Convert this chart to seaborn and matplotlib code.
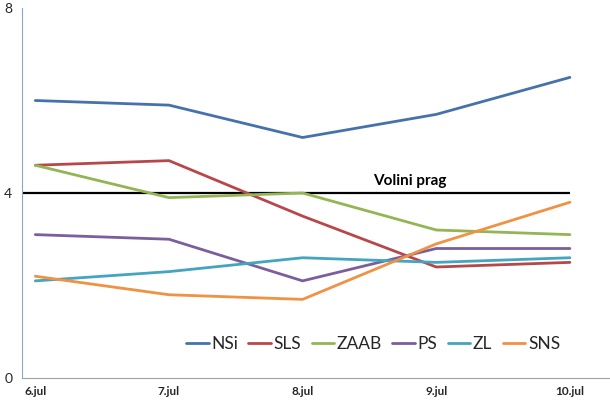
import pandas as pd
import matplotlib
matplotlib.use("Agg")
import matplotlib.pyplot as plt
from matplotlib.ticker import FixedLocator
import seaborn as sns

# ── Podatki ──
DNEVI = ["6.jul", "7.jul", "8.jul", "9.jul", "10.jul"]
STRANKE = ["NSi", "SLS", "ZAAB", "PS", "ZL", "SNS"]
NSI = [6.0, 5.9, 5.2, 5.7, 6.5]
SLS = [4.6, 4.7, 3.5, 2.4, 2.5]
ZAAB = [4.6, 3.9, 4.0, 3.2, 3.1]
PS = [3.1, 3.0, 2.1, 2.8, 2.8]
ZL = [2.1, 2.3, 2.6, 2.5, 2.6]
SNS = [2.2, 1.8, 1.7, 2.9, 3.8]
PRAG = 4
Y_TICKS = [0, 4, 8]

BARVE = ["#4572AA", "#B8474A", "#93B553", "#7A5E9E", "#43A5C0", "#F09244"]

vrednosti = [NSI, SLS, ZAAB, PS, ZL, SNS]
df = pd.DataFrame([
    {"dan": d, "pos": i, "stranka": s, "vrednost": v}
    for s, vals in zip(STRANKE, vrednosti)
    for i, (d, v) in enumerate(zip(DNEVI, vals))
])

sns.set_style("white")
plt.rcParams["font.family"] = ["Lato", "DejaVu Sans"]

fig = plt.figure(figsize=(6.1, 4.0), dpi=100)
ax = fig.add_axes([0.036, 0.055, 0.964, 0.925])

sns.lineplot(data=df, x="pos", y="vrednost", hue="stranka", hue_order=STRANKE,
             palette=BARVE, linewidth=2, sort=False, ax=ax, zorder=3)

# volilni prag
ax.hlines(PRAG, -0.18, len(DNEVI) - 1, color="black", lw=1.6, zorder=2)
ax.text(2.8, PRAG + 0.1, "Volini prag", fontsize=11, fontweight="bold",
        ha="center", va="bottom", color="black")

ax.set_xlim(-0.1, 4.3)
ax.set_ylim(0, 8)
ax.set_xlabel("")
ax.set_ylabel("")

ax.xaxis.set_major_locator(FixedLocator(range(len(DNEVI))))
ax.set_xticklabels(DNEVI, fontsize=8.5, fontweight="bold")
ax.xaxis.set_minor_locator(FixedLocator([0.5, 1.5, 2.5, 3.5]))
ax.tick_params(axis="x", which="major", length=0, pad=6)
ax.tick_params(axis="x", which="minor", length=4, color="#A0A0A0", direction="out")
ax.set_yticks(Y_TICKS)
ax.tick_params(axis="y", length=0, labelsize=10, pad=7)

for s in ["top", "right"]:
    ax.spines[s].set_visible(False)
ax.spines["left"].set_color("#8EA6C6")
ax.spines["bottom"].set_color("#A0A0A0")

ax.legend(loc="center", bbox_to_anchor=(0.597, 0.092), ncol=6, frameon=False,
          fontsize=12.5, handlelength=1.3, handletextpad=0.15, columnspacing=0.6)

fig.savefig("out.png", dpi=100, facecolor="white")
